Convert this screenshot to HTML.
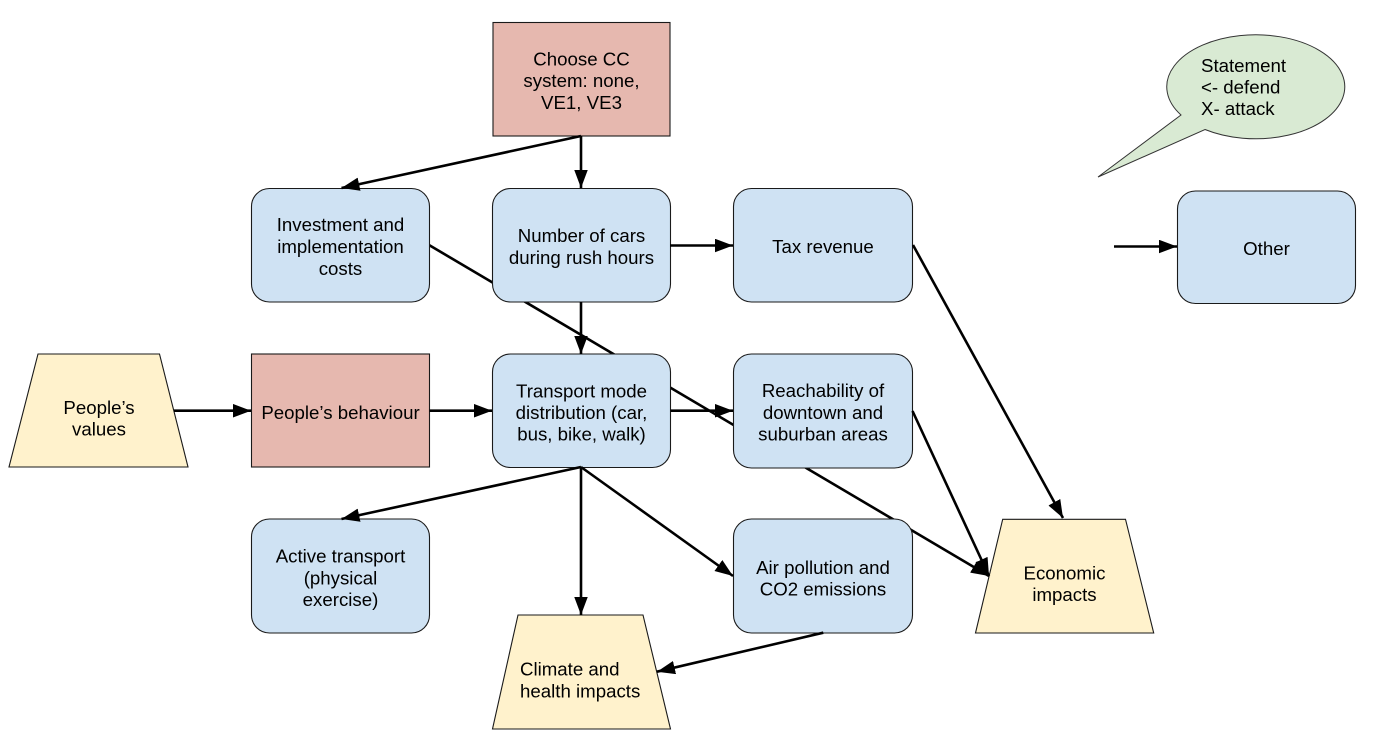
<!DOCTYPE html>
<html>
<head>
<meta charset="utf-8">
<style>
html,body{margin:0;padding:0;background:#fff;}
svg{display:block;}
text{font-family:"Liberation Sans",Arial,sans-serif;font-size:18.67px;fill:#000;}
</style>
</head>
<body>
<svg width="1381" height="739" viewBox="0 0 1381 739" xmlns="http://www.w3.org/2000/svg">
<defs>
<marker id="ah" markerUnits="userSpaceOnUse" markerWidth="20" markerHeight="14" refX="18" refY="6.75" orient="auto">
<path d="M0,0 L18,6.75 L0,13.5 z" fill="#000"/>
</marker>
</defs>
<rect x="0" y="0" width="1381" height="739" fill="#fff"/>

<!-- connector drawn under boxes -->
<line x1="429" y1="245" x2="989" y2="576" stroke="#000" stroke-width="2.6" marker-end="url(#ah)"/>

<!-- shapes -->
<g stroke="#1a1a1a" stroke-width="1.1">
<rect x="493" y="22.5" width="177" height="113.5" fill="#e6b8af"/>
<rect x="251.5" y="188.5" width="178" height="113.5" rx="18" ry="18" fill="#cfe2f3"/>
<rect x="492.5" y="188.5" width="178" height="113.5" rx="18" ry="18" fill="#cfe2f3"/>
<rect x="733.5" y="188.5" width="179" height="113.5" rx="18" ry="18" fill="#cfe2f3"/>
<rect x="1177.5" y="191" width="178" height="112.5" rx="18" ry="18" fill="#cfe2f3"/>
<polygon points="38,354 159.5,354 188,467 9,467" fill="#fff2cc"/>
<rect x="251.5" y="354" width="178" height="113" fill="#e6b8af"/>
<rect x="492.5" y="354" width="178" height="113.5" rx="18" ry="18" fill="#cfe2f3"/>
<rect x="733.5" y="354" width="179" height="114" rx="18" ry="18" fill="#cfe2f3"/>
<rect x="251.5" y="519" width="178" height="114" rx="18" ry="18" fill="#cfe2f3"/>
<rect x="733.5" y="519" width="179" height="114" rx="18" ry="18" fill="#cfe2f3"/>
<polygon points="518,615 643,615 670.5,729 492.5,729" fill="#fff2cc"/>
<polygon points="1002.7,519.3 1125.5,519.3 1153.7,633 975.5,633" fill="#fff2cc"/>
<path d="M1181,115 L1098,177 L1205,129.5 A89,52 0 1 0 1181,115 Z" fill="#d9ead3" stroke="#333" stroke-width="1"/>
</g>

<!-- connectors -->
<g stroke="#000" stroke-width="2.6" fill="none">
<line x1="581" y1="136" x2="581" y2="188" marker-end="url(#ah)"/>
<line x1="581" y1="136" x2="341.5" y2="188" marker-end="url(#ah)"/>
<line x1="670" y1="245.5" x2="733" y2="245.5" marker-end="url(#ah)"/>
<line x1="913" y1="245" x2="1063" y2="518" marker-end="url(#ah)"/>
<line x1="1114" y1="246.5" x2="1177" y2="246.5" marker-end="url(#ah)"/>
<line x1="581" y1="302" x2="581" y2="354" marker-end="url(#ah)"/>
<line x1="174" y1="410.7" x2="251" y2="410.7" marker-end="url(#ah)"/>
<line x1="429.5" y1="410.7" x2="492" y2="410.7" marker-end="url(#ah)"/>
<line x1="670.5" y1="410.7" x2="733" y2="410.7" marker-end="url(#ah)"/>
<line x1="912.5" y1="411" x2="989" y2="576" marker-end="url(#ah)"/>
<line x1="581" y1="467" x2="341.5" y2="519" marker-end="url(#ah)"/>
<line x1="581" y1="467" x2="581" y2="615" marker-end="url(#ah)"/>
<line x1="581" y1="467" x2="733" y2="576" marker-end="url(#ah)"/>
<line x1="823.3" y1="632.7" x2="657" y2="671.7" marker-end="url(#ah)"/>
</g>

<!-- labels -->
<g text-anchor="middle">
<text x="581.5" y="65.5">Choose CC</text>
<text x="581.5" y="87">system: none,</text>
<text x="581.5" y="109">VE1, VE3</text>

<text x="340.5" y="231">Investment and</text>
<text x="340.5" y="253">implementation</text>
<text x="340.5" y="275">costs</text>

<text x="581.5" y="242">Number of cars</text>
<text x="581.5" y="264">during rush hours</text>

<text x="823" y="253">Tax revenue</text>

<text x="1266.5" y="255">Other</text>

<text x="99" y="414">People’s</text>
<text x="99" y="435.5">values</text>

<text x="340.5" y="419">People’s behaviour</text>

<text x="581.5" y="397.3">Transport mode</text>
<text x="581.5" y="419">distribution (car,</text>
<text x="581.5" y="440.7">bus, bike, walk)</text>

<text x="823" y="397">Reachability of</text>
<text x="823" y="419">downtown and</text>
<text x="823" y="440.7">suburban areas</text>

<text x="340.5" y="562.7">Active transport</text>
<text x="340.5" y="584.3">(physical</text>
<text x="340.5" y="606">exercise)</text>

<text x="823" y="574">Air pollution and</text>
<text x="823" y="595.7">CO2 emissions</text>

<text x="1064.5" y="579.3">Economic</text>
<text x="1064.5" y="601">impacts</text>
</g>

<text x="520" y="675.7">Climate and</text>
<text x="520" y="697.3">health impacts</text>

<text x="1201" y="72">Statement</text>
<text x="1201" y="93.5">&lt;- defend</text>
<text x="1201" y="115">X- attack</text>
</svg>
</body>
</html>
